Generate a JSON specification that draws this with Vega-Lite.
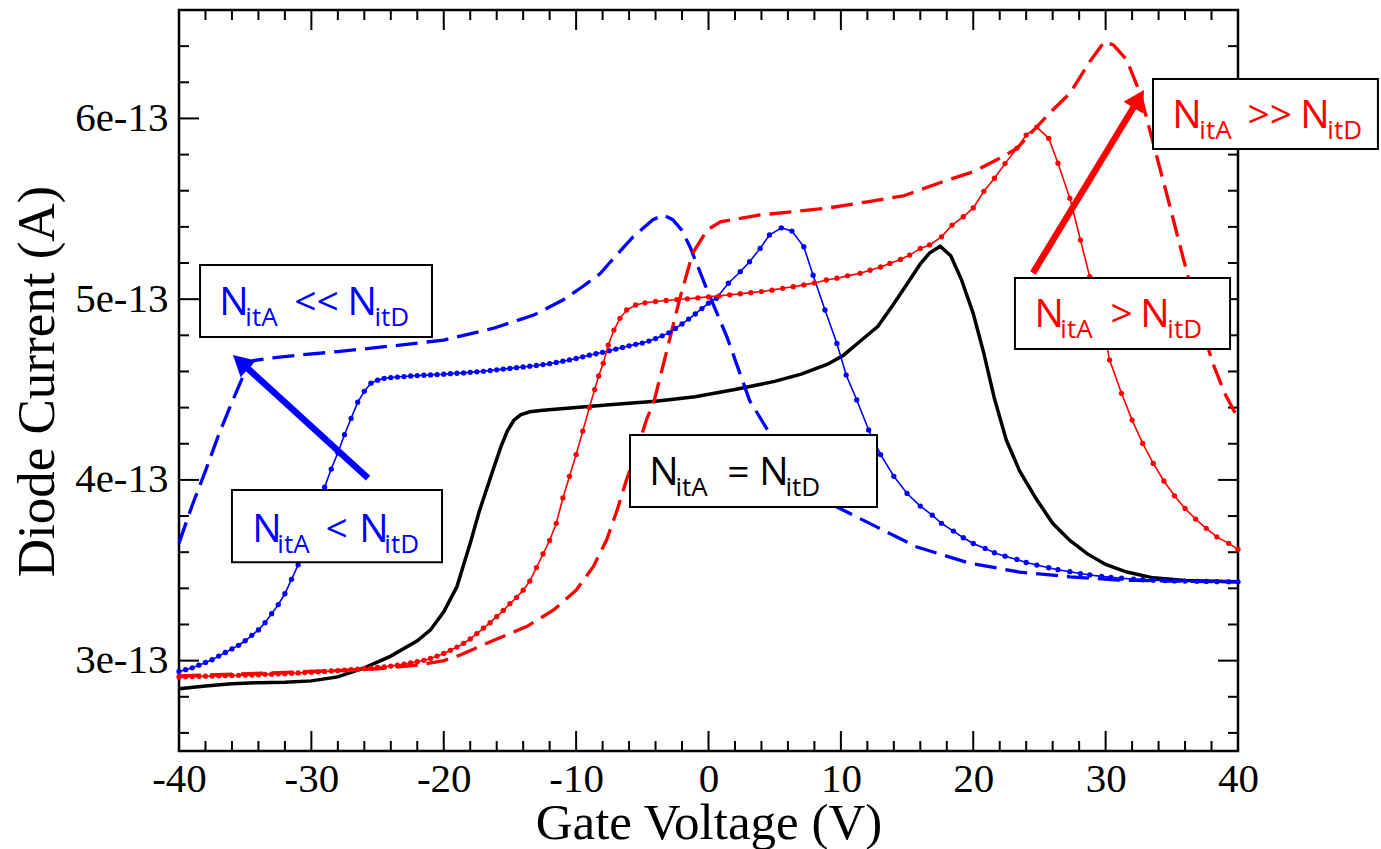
{
 "$schema": "https://vega.github.io/schema/vega-lite/v6.json",
 "width": 1059, "height": 741,
 "autosize": {"type": "none"},
 "padding": {"left": 179, "top": 10, "right": 143, "bottom": 98},
 "background": "white",
 "config": {"view": {"stroke": "#000", "strokeWidth": 2.5}, "axis": {"grid": false, "domain": false}},
 "datasets": {
  "xt": [
   {"v":-30,"kind":"major"},{"v":-20,"kind":"major"},{"v":-10,"kind":"major"},{"v":0,"kind":"major"},{"v":10,"kind":"major"},{"v":20,"kind":"major"},{"v":30,"kind":"major"},
   {"v":-38,"kind":"minor"},{"v":-36,"kind":"minor"},{"v":-34,"kind":"minor"},{"v":-32,"kind":"minor"},{"v":-28,"kind":"minor"},{"v":-26,"kind":"minor"},{"v":-24,"kind":"minor"},{"v":-22,"kind":"minor"},{"v":-18,"kind":"minor"},{"v":-16,"kind":"minor"},{"v":-14,"kind":"minor"},{"v":-12,"kind":"minor"},{"v":-8,"kind":"minor"},{"v":-6,"kind":"minor"},{"v":-4,"kind":"minor"},{"v":-2,"kind":"minor"},{"v":2,"kind":"minor"},{"v":4,"kind":"minor"},{"v":6,"kind":"minor"},{"v":8,"kind":"minor"},{"v":12,"kind":"minor"},{"v":14,"kind":"minor"},{"v":16,"kind":"minor"},{"v":18,"kind":"minor"},{"v":22,"kind":"minor"},{"v":24,"kind":"minor"},{"v":26,"kind":"minor"},{"v":28,"kind":"minor"},{"v":32,"kind":"minor"},{"v":34,"kind":"minor"},{"v":36,"kind":"minor"},{"v":38,"kind":"minor"}
  ],
  "yt": [
   {"i":3e-13,"kind":"major"},{"i":4e-13,"kind":"major"},{"i":5e-13,"kind":"major"},{"i":6e-13,"kind":"major"},
   {"i":2.6e-13,"kind":"minor"},{"i":2.8e-13,"kind":"minor"},{"i":3.2e-13,"kind":"minor"},{"i":3.4e-13,"kind":"minor"},{"i":3.6e-13,"kind":"minor"},{"i":3.8e-13,"kind":"minor"},{"i":4.2e-13,"kind":"minor"},{"i":4.4e-13,"kind":"minor"},{"i":4.6e-13,"kind":"minor"},{"i":4.8e-13,"kind":"minor"},{"i":5.2e-13,"kind":"minor"},{"i":5.4e-13,"kind":"minor"},{"i":5.6e-13,"kind":"minor"},{"i":5.8e-13,"kind":"minor"},{"i":6.2e-13,"kind":"minor"},{"i":6.4e-13,"kind":"minor"}
  ],
  "black": [
   {"v":-40,"i":2.845e-13},{"v":-38,"i":2.86e-13},{"v":-36,"i":2.872e-13},{"v":-34,"i":2.878e-13},{"v":-32,"i":2.881e-13},{"v":-30,"i":2.888e-13},{"v":-28,"i":2.91e-13},{"v":-26,"i":2.96e-13},{"v":-24,"i":3.025e-13},{"v":-22,"i":3.11e-13},{"v":-21,"i":3.17e-13},{"v":-20,"i":3.27e-13},{"v":-19,"i":3.41e-13},{"v":-18.5,"i":3.53e-13},{"v":-18,"i":3.65e-13},{"v":-17.3,"i":3.83e-13},{"v":-16.3,"i":4.05e-13},{"v":-15.7,"i":4.18e-13},{"v":-15.2,"i":4.27e-13},{"v":-14.7,"i":4.33e-13},{"v":-14.2,"i":4.36e-13},{"v":-13.5,"i":4.377e-13},{"v":-12.5,"i":4.385e-13},{"v":-10,"i":4.4e-13},{"v":-7,"i":4.418e-13},{"v":-4,"i":4.435e-13},{"v":-1,"i":4.46e-13},{"v":2,"i":4.5e-13},{"v":5,"i":4.545e-13},{"v":7,"i":4.585e-13},{"v":9,"i":4.64e-13},{"v":10.2,"i":4.69e-13},{"v":11.5,"i":4.77e-13},{"v":12.8,"i":4.85e-13},{"v":14,"i":4.975e-13},{"v":15.2,"i":5.106e-13},{"v":16,"i":5.195e-13},{"v":16.7,"i":5.255e-13},{"v":17.5,"i":5.293e-13},{"v":18.3,"i":5.24e-13},{"v":19.1,"i":5.11e-13},{"v":20,"i":4.92e-13},{"v":20.8,"i":4.7e-13},{"v":21.6,"i":4.45e-13},{"v":22.5,"i":4.22e-13},{"v":23.5,"i":4.05e-13},{"v":24.8,"i":3.89e-13},{"v":26,"i":3.76e-13},{"v":27.3,"i":3.665e-13},{"v":28.6,"i":3.592e-13},{"v":30,"i":3.532e-13},{"v":31.6,"i":3.49e-13},{"v":33.6,"i":3.458e-13},{"v":36,"i":3.443e-13},{"v":40,"i":3.437e-13}
  ],
  "blueDash": [
   {"v":-40,"i":3.65e-13},{"v":-39,"i":3.86e-13},{"v":-38,"i":4.05e-13},{"v":-37,"i":4.25e-13},{"v":-36,"i":4.43e-13},{"v":-35,"i":4.6e-13},{"v":-34.4,"i":4.66e-13},{"v":-33,"i":4.675e-13},{"v":-31,"i":4.69e-13},{"v":-28,"i":4.71e-13},{"v":-26,"i":4.725e-13},{"v":-23.3,"i":4.746e-13},{"v":-20,"i":4.774e-13},{"v":-16.3,"i":4.838e-13},{"v":-13.2,"i":4.912e-13},{"v":-11,"i":4.995e-13},{"v":-9.5,"i":5.07e-13},{"v":-8.2,"i":5.14e-13},{"v":-7,"i":5.24e-13},{"v":-5.7,"i":5.345e-13},{"v":-4.2,"i":5.44e-13},{"v":-3.4,"i":5.465e-13},{"v":-2.7,"i":5.44e-13},{"v":-2,"i":5.38e-13},{"v":-1.4,"i":5.29e-13},{"v":-0.1,"i":5.05e-13},{"v":1.4,"i":4.79e-13},{"v":3.1,"i":4.44e-13},{"v":4.6,"i":4.26e-13},{"v":6.4,"i":4.02e-13},{"v":8,"i":3.92e-13},{"v":9.7,"i":3.85e-13},{"v":12.7,"i":3.74e-13},{"v":15.7,"i":3.63e-13},{"v":19.7,"i":3.54e-13},{"v":23.5,"i":3.49e-13},{"v":27.3,"i":3.464e-13},{"v":31,"i":3.446e-13},{"v":35,"i":3.44e-13},{"v":40,"i":3.436e-13}
  ],
  "blueDot": [
   {"v":-40,"i":2.94e-13},{"v":-39.5,"i":2.95e-13},{"v":-39,"i":2.96e-13},{"v":-38.5,"i":2.975e-13},{"v":-38,"i":2.99e-13},{"v":-37.5,"i":3.005e-13},{"v":-37,"i":3.025e-13},{"v":-36.5,"i":3.045e-13},{"v":-36,"i":3.065e-13},{"v":-35.5,"i":3.085e-13},{"v":-35,"i":3.11e-13},{"v":-34.5,"i":3.14e-13},{"v":-34,"i":3.17e-13},{"v":-33.5,"i":3.21e-13},{"v":-33,"i":3.26e-13},{"v":-32.5,"i":3.31e-13},{"v":-32,"i":3.37e-13},{"v":-31.5,"i":3.45e-13},{"v":-31,"i":3.53e-13},{"v":-30.5,"i":3.63e-13},{"v":-30,"i":3.76e-13},{"v":-29.5,"i":3.87e-13},{"v":-29,"i":3.96e-13},{"v":-28.5,"i":4.06e-13},{"v":-28,"i":4.15e-13},{"v":-27.5,"i":4.25e-13},{"v":-27,"i":4.34e-13},{"v":-26.5,"i":4.43e-13},{"v":-26,"i":4.49e-13},{"v":-25.5,"i":4.535e-13},{"v":-25,"i":4.552e-13},{"v":-24.5,"i":4.562e-13},{"v":-24,"i":4.566e-13},{"v":-23.5,"i":4.569e-13},{"v":-23,"i":4.572e-13},{"v":-22.5,"i":4.575e-13},{"v":-22,"i":4.577e-13},{"v":-21.5,"i":4.579e-13},{"v":-21,"i":4.581e-13},{"v":-20.5,"i":4.583e-13},{"v":-20,"i":4.585e-13},{"v":-19.5,"i":4.588e-13},{"v":-19,"i":4.59e-13},{"v":-18.5,"i":4.592e-13},{"v":-18,"i":4.595e-13},{"v":-17.5,"i":4.598e-13},{"v":-17,"i":4.601e-13},{"v":-16.5,"i":4.605e-13},{"v":-16,"i":4.609e-13},{"v":-15.5,"i":4.613e-13},{"v":-15,"i":4.617e-13},{"v":-14.5,"i":4.621e-13},{"v":-14,"i":4.625e-13},{"v":-13.5,"i":4.629e-13},{"v":-13,"i":4.633e-13},{"v":-12.5,"i":4.638e-13},{"v":-12,"i":4.643e-13},{"v":-11.5,"i":4.65e-13},{"v":-11,"i":4.657e-13},{"v":-10.5,"i":4.664e-13},{"v":-10,"i":4.672e-13},{"v":-9.5,"i":4.681e-13},{"v":-9,"i":4.69e-13},{"v":-8.5,"i":4.698e-13},{"v":-8,"i":4.706e-13},{"v":-7.5,"i":4.715e-13},{"v":-7,"i":4.724e-13},{"v":-6.5,"i":4.733e-13},{"v":-6,"i":4.742e-13},{"v":-5.5,"i":4.75e-13},{"v":-5,"i":4.757e-13},{"v":-4.5,"i":4.768e-13},{"v":-4,"i":4.782e-13},{"v":-3.5,"i":4.797e-13},{"v":-3,"i":4.814e-13},{"v":-2.5,"i":4.838e-13},{"v":-2,"i":4.863e-13},{"v":-1.5,"i":4.89e-13},{"v":-1,"i":4.918e-13},{"v":-0.5,"i":4.948e-13},{"v":0,"i":4.978e-13},{"v":0.6,"i":5.005e-13},{"v":1.5,"i":5.088e-13},{"v":2.4,"i":5.152e-13},{"v":3.1,"i":5.207e-13},{"v":3.9,"i":5.281e-13},{"v":4.6,"i":5.355e-13},{"v":5.5,"i":5.395e-13},{"v":6.3,"i":5.377e-13},{"v":7.2,"i":5.29e-13},{"v":7.9,"i":5.133e-13},{"v":8.8,"i":4.94e-13},{"v":9.7,"i":4.755e-13},{"v":10.4,"i":4.58e-13},{"v":11.2,"i":4.442e-13},{"v":12.1,"i":4.276e-13},{"v":13,"i":4.14e-13},{"v":14,"i":4.02e-13},{"v":15,"i":3.925e-13},{"v":16,"i":3.855e-13},{"v":16.9,"i":3.805e-13},{"v":17.6,"i":3.76e-13},{"v":18.5,"i":3.717e-13},{"v":19.25,"i":3.68e-13},{"v":20,"i":3.648e-13},{"v":20.9,"i":3.621e-13},{"v":21.6,"i":3.597e-13},{"v":22.4,"i":3.578e-13},{"v":23.3,"i":3.56e-13},{"v":24,"i":3.543e-13},{"v":24.8,"i":3.529e-13},{"v":25.7,"i":3.514e-13},{"v":26.4,"i":3.503e-13},{"v":27.3,"i":3.492e-13},{"v":28.1,"i":3.482e-13},{"v":28.8,"i":3.474e-13},{"v":29.7,"i":3.466e-13},{"v":30.4,"i":3.461e-13},{"v":31.2,"i":3.456e-13},{"v":32.1,"i":3.451e-13},{"v":32.8,"i":3.448e-13},{"v":33.6,"i":3.445e-13},{"v":34.5,"i":3.443e-13},{"v":35.2,"i":3.441e-13},{"v":36,"i":3.44e-13},{"v":36.9,"i":3.439e-13},{"v":37.6,"i":3.438e-13},{"v":38.4,"i":3.437e-13},{"v":39.3,"i":3.436e-13},{"v":40,"i":3.436e-13}
  ],
  "redDot": [
   {"v":-40,"i":2.91e-13},{"v":-39.5,"i":2.911e-13},{"v":-39,"i":2.912e-13},{"v":-38.5,"i":2.913e-13},{"v":-38,"i":2.914e-13},{"v":-37.5,"i":2.915e-13},{"v":-37,"i":2.916e-13},{"v":-36.5,"i":2.917e-13},{"v":-36,"i":2.918e-13},{"v":-35.5,"i":2.919e-13},{"v":-35,"i":2.92e-13},{"v":-34.5,"i":2.921e-13},{"v":-34,"i":2.922e-13},{"v":-33.5,"i":2.924e-13},{"v":-33,"i":2.925e-13},{"v":-32.5,"i":2.927e-13},{"v":-32,"i":2.928e-13},{"v":-31.5,"i":2.93e-13},{"v":-31,"i":2.932e-13},{"v":-30.5,"i":2.934e-13},{"v":-30,"i":2.936e-13},{"v":-29.5,"i":2.938e-13},{"v":-29,"i":2.94e-13},{"v":-28.5,"i":2.943e-13},{"v":-28,"i":2.945e-13},{"v":-27.5,"i":2.948e-13},{"v":-27,"i":2.95e-13},{"v":-26.5,"i":2.953e-13},{"v":-26,"i":2.956e-13},{"v":-25.5,"i":2.959e-13},{"v":-25,"i":2.962e-13},{"v":-24.5,"i":2.966e-13},{"v":-24,"i":2.97e-13},{"v":-23.5,"i":2.975e-13},{"v":-23,"i":2.98e-13},{"v":-22.5,"i":2.987e-13},{"v":-22,"i":2.994e-13},{"v":-21.5,"i":3.002e-13},{"v":-21,"i":3.012e-13},{"v":-20.5,"i":3.025e-13},{"v":-20,"i":3.04e-13},{"v":-19.5,"i":3.057e-13},{"v":-19,"i":3.075e-13},{"v":-18.5,"i":3.096e-13},{"v":-18,"i":3.12e-13},{"v":-17.5,"i":3.15e-13},{"v":-17,"i":3.18e-13},{"v":-16.5,"i":3.21e-13},{"v":-16,"i":3.243e-13},{"v":-15.5,"i":3.278e-13},{"v":-15,"i":3.315e-13},{"v":-14.5,"i":3.35e-13},{"v":-14,"i":3.39e-13},{"v":-13.5,"i":3.44e-13},{"v":-13,"i":3.515e-13},{"v":-12.5,"i":3.59e-13},{"v":-12,"i":3.665e-13},{"v":-11.5,"i":3.76e-13},{"v":-11,"i":3.9e-13},{"v":-10.5,"i":4.02e-13},{"v":-10,"i":4.14e-13},{"v":-9.5,"i":4.27e-13},{"v":-9,"i":4.4e-13},{"v":-8.6,"i":4.5e-13},{"v":-8.3,"i":4.575e-13},{"v":-7.95,"i":4.645e-13},{"v":-7.57,"i":4.746e-13},{"v":-7.14,"i":4.829e-13},{"v":-6.69,"i":4.894e-13},{"v":-6.18,"i":4.94e-13},{"v":-5.5,"i":4.968e-13},{"v":-4.8,"i":4.98e-13},{"v":-4,"i":4.987e-13},{"v":-3.2,"i":4.993e-13},{"v":-2.4,"i":4.998e-13},{"v":-1.6,"i":5.002e-13},{"v":-0.8,"i":5.007e-13},{"v":0,"i":5.013e-13},{"v":0.8,"i":5.018e-13},{"v":1.6,"i":5.024e-13},{"v":2.4,"i":5.03e-13},{"v":3.2,"i":5.036e-13},{"v":4,"i":5.042e-13},{"v":4.8,"i":5.05e-13},{"v":5.6,"i":5.06e-13},{"v":6.4,"i":5.069e-13},{"v":7.2,"i":5.079e-13},{"v":8,"i":5.09e-13},{"v":8.9,"i":5.106e-13},{"v":9.7,"i":5.116e-13},{"v":10.5,"i":5.129e-13},{"v":11.45,"i":5.143e-13},{"v":12.2,"i":5.16e-13},{"v":13,"i":5.178e-13},{"v":13.7,"i":5.198e-13},{"v":14.5,"i":5.22e-13},{"v":15.2,"i":5.244e-13},{"v":16,"i":5.281e-13},{"v":16.7,"i":5.3e-13},{"v":17.6,"i":5.345e-13},{"v":18.4,"i":5.41e-13},{"v":19.25,"i":5.456e-13},{"v":20,"i":5.505e-13},{"v":20.8,"i":5.597e-13},{"v":21.6,"i":5.669e-13},{"v":22.4,"i":5.75e-13},{"v":23.3,"i":5.836e-13},{"v":24,"i":5.908e-13},{"v":24.8,"i":5.952e-13},{"v":25.7,"i":5.89e-13},{"v":26.4,"i":5.752e-13},{"v":27.3,"i":5.558e-13},{"v":28.1,"i":5.327e-13},{"v":28.8,"i":5.124e-13},{"v":29.6,"i":4.921e-13},{"v":30.3,"i":4.663e-13},{"v":31.2,"i":4.479e-13},{"v":32,"i":4.331e-13},{"v":32.8,"i":4.202e-13},{"v":33.6,"i":4.091e-13},{"v":34.4,"i":3.994e-13},{"v":35.2,"i":3.912e-13},{"v":36,"i":3.842e-13},{"v":36.8,"i":3.783e-13},{"v":37.6,"i":3.732e-13},{"v":38.4,"i":3.685e-13},{"v":39.3,"i":3.649e-13},{"v":40,"i":3.616e-13}
  ],
  "redDash": [
   {"v":-40,"i":2.915e-13},{"v":-36,"i":2.925e-13},{"v":-32,"i":2.935e-13},{"v":-28,"i":2.945e-13},{"v":-25,"i":2.955e-13},{"v":-22,"i":2.975e-13},{"v":-20,"i":3.0e-13},{"v":-18.8,"i":3.03e-13},{"v":-16.3,"i":3.11e-13},{"v":-13.7,"i":3.19e-13},{"v":-11.7,"i":3.28e-13},{"v":-10,"i":3.39e-13},{"v":-8.7,"i":3.52e-13},{"v":-7.7,"i":3.667e-13},{"v":-6.9,"i":3.833e-13},{"v":-6.2,"i":4.0e-13},{"v":-5.4,"i":4.165e-13},{"v":-4.7,"i":4.33e-13},{"v":-4.1,"i":4.44e-13},{"v":-3.2,"i":4.7e-13},{"v":-2.2,"i":4.995e-13},{"v":-1.2,"i":5.254e-13},{"v":-0.1,"i":5.383e-13},{"v":0.9,"i":5.428e-13},{"v":3.9,"i":5.466e-13},{"v":8.9,"i":5.503e-13},{"v":12,"i":5.539e-13},{"v":14.7,"i":5.571e-13},{"v":17.7,"i":5.65e-13},{"v":20,"i":5.705e-13},{"v":22,"i":5.78e-13},{"v":23.3,"i":5.834e-13},{"v":24.8,"i":5.954e-13},{"v":26,"i":6.047e-13},{"v":27.3,"i":6.139e-13},{"v":28.8,"i":6.314e-13},{"v":29.9,"i":6.425e-13},{"v":30.6,"i":6.406e-13},{"v":31.6,"i":6.323e-13},{"v":32.6,"i":6.139e-13},{"v":33.6,"i":5.862e-13},{"v":34.6,"i":5.586e-13},{"v":35.9,"i":5.216e-13},{"v":37.1,"i":4.884e-13},{"v":38.1,"i":4.645e-13},{"v":39,"i":4.479e-13},{"v":40,"i":4.34e-13}
  ],
  "boxes": [
   {"case":"ll","x1":-38.41,"x2":-20.89,"y1":5.189e-13,"y2":4.79e-13},
   {"case":"l","x1":-36.0,"x2":-20.13,"y1":3.944e-13,"y2":3.545e-13},
   {"case":"eq","x1":-5.93,"x2":12.73,"y1":4.248e-13,"y2":3.85e-13},
   {"case":"g","x1":23.15,"x2":39.4,"y1":5.117e-13,"y2":4.724e-13},
   {"case":"gg","x1":33.58,"x2":50.57,"y1":6.218e-13,"y2":5.831e-13}
  ],
  "labels": [
   {"case":"ll","part":"main","t":"N","x":-36.95,"y":4.912e-13},
   {"case":"ll","part":"sub","t":"itA","x":-34.99,"y":4.912e-13},
   {"case":"ll","part":"main","t":"<<","x":-31.29,"y":4.912e-13},
   {"case":"ll","part":"main","t":"N","x":-27.28,"y":4.912e-13},
   {"case":"ll","part":"sub","t":"itD","x":-25.24,"y":4.912e-13},
   {"case":"l","part":"main","t":"N","x":-34.46,"y":3.656e-13},
   {"case":"l","part":"sub","t":"itA","x":-32.57,"y":3.656e-13},
   {"case":"l","part":"main","t":"<","x":-28.94,"y":3.656e-13},
   {"case":"l","part":"main","t":"N","x":-26.38,"y":3.656e-13},
   {"case":"l","part":"sub","t":"itD","x":-24.49,"y":3.656e-13},
   {"case":"eq","part":"main","t":"N","x":-4.47,"y":3.971e-13},
   {"case":"eq","part":"sub","t":"itA","x":-2.5,"y":3.971e-13},
   {"case":"eq","part":"main","t":"=","x":1.42,"y":3.971e-13},
   {"case":"eq","part":"main","t":"N","x":3.84,"y":3.971e-13},
   {"case":"eq","part":"sub","t":"itD","x":5.81,"y":3.971e-13},
   {"case":"g","part":"main","t":"N","x":24.62,"y":4.846e-13},
   {"case":"g","part":"sub","t":"itA","x":26.58,"y":4.846e-13},
   {"case":"g","part":"main","t":">","x":30.36,"y":4.846e-13},
   {"case":"g","part":"main","t":"N","x":32.62,"y":4.846e-13},
   {"case":"g","part":"sub","t":"itD","x":34.66,"y":4.846e-13},
   {"case":"gg","part":"main","t":"N","x":35.04,"y":5.947e-13},
   {"case":"gg","part":"sub","t":"itA","x":37.08,"y":5.947e-13},
   {"case":"gg","part":"main","t":">>","x":40.71,"y":5.947e-13},
   {"case":"gg","part":"main","t":"N","x":44.71,"y":5.947e-13},
   {"case":"gg","part":"sub","t":"itD","x":46.75,"y":5.947e-13}
  ],
  "arrows": [
   {"case":"l","k":0,"x":-25.72,"y":4.01e-13},
   {"case":"l","k":1,"x":-35.25,"y":4.646e-13},
   {"case":"g","k":0,"x":24.51,"y":5.145e-13},
   {"case":"g","k":1,"x":32.43,"y":6.1e-13}
  ],
  "headBlue": [{"case":"l","x":-35.92,"y":4.691e-13}],
  "headRed": [{"case":"g","x":32.9,"y":6.157e-13}]
 },
 "layer": [
  {
   "data": {"name": "black"},
   "mark": {"type": "line", "stroke": "#000", "strokeWidth": 3.5},
   "encoding": {
    "x": {"field": "v", "type": "quantitative", "scale": {"domain": [-40, 40], "nice": false, "zero": false},
     "axis": {"orient": "bottom", "values": [-40,-30,-20,-10,0,10,20,30,40], "ticks": false, "tickSize": 0, "domain": false, "grid": false,
      "labelPadding": 8, "labelFont": "Liberation Serif", "labelFontSize": 41, "labelColor": "#000", "labelExpr": "datum.value", "labelFlush": false, "labelOverlap": false,
      "title": "Gate Voltage (V)", "titleFont": "Liberation Serif", "titleFontSize": 51, "titleFontWeight": "normal", "titleColor": "#000", "titleX": 529.5, "titleY": 87, "titleBaseline": "alphabetic", "titleAlign": "center"}},
    "y": {"field": "i", "type": "quantitative", "scale": {"domain": [2.5e-13, 6.6e-13], "nice": false, "zero": false},
     "axis": {"orient": "left", "values": [3e-13, 4e-13, 5e-13, 6e-13], "ticks": false, "tickSize": 0, "domain": false, "grid": false,
      "labelPadding": 11, "labelFont": "Liberation Serif", "labelFontSize": 41, "labelColor": "#000", "labelExpr": "replace(format(datum.value, '.0e'), '\u2212', '-')", "labelFlush": false, "labelOverlap": false,
      "title": "Diode Current (A)", "titleFont": "Liberation Serif", "titleFontSize": 53, "titleFontWeight": "normal", "titleColor": "#000", "titleX": -126, "titleY": 371, "titleBaseline": "alphabetic", "titleAlign": "center", "titleAngle": -90}}
   }
  },
  {
   "data": {"name": "xt"}, "transform": [{"filter": "datum.kind === 'major'"}],
   "mark": {"type": "rule", "stroke": "#000", "strokeWidth": 2},
   "encoding": {"x": {"field": "v", "type": "quantitative", "axis": null}, "y": {"datum": 2.5e-13, "type": "quantitative", "axis": null}, "y2": {"datum": 2.6107e-13}}
  },
  {
   "data": {"name": "xt"}, "transform": [{"filter": "datum.kind === 'minor'"}],
   "mark": {"type": "rule", "stroke": "#000", "strokeWidth": 2},
   "encoding": {"x": {"field": "v", "type": "quantitative", "axis": null}, "y": {"datum": 2.5e-13, "type": "quantitative", "axis": null}, "y2": {"datum": 2.5553e-13}}
  },
  {
   "data": {"name": "xt"}, "transform": [{"filter": "datum.kind === 'major'"}],
   "mark": {"type": "rule", "stroke": "#000", "strokeWidth": 2},
   "encoding": {"x": {"field": "v", "type": "quantitative", "axis": null}, "y": {"datum": 6.6e-13, "type": "quantitative", "axis": null}, "y2": {"datum": 6.4893e-13}}
  },
  {
   "data": {"name": "xt"}, "transform": [{"filter": "datum.kind === 'minor'"}],
   "mark": {"type": "rule", "stroke": "#000", "strokeWidth": 2},
   "encoding": {"x": {"field": "v", "type": "quantitative", "axis": null}, "y": {"datum": 6.6e-13, "type": "quantitative", "axis": null}, "y2": {"datum": 6.5447e-13}}
  },
  {
   "data": {"name": "yt"}, "transform": [{"filter": "datum.kind === 'major'"}],
   "mark": {"type": "rule", "stroke": "#000", "strokeWidth": 2},
   "encoding": {"y": {"field": "i", "type": "quantitative", "axis": null}, "x": {"datum": -40, "type": "quantitative", "axis": null}, "x2": {"datum": -38.489}}
  },
  {
   "data": {"name": "yt"}, "transform": [{"filter": "datum.kind === 'minor'"}],
   "mark": {"type": "rule", "stroke": "#000", "strokeWidth": 2},
   "encoding": {"y": {"field": "i", "type": "quantitative", "axis": null}, "x": {"datum": -40, "type": "quantitative", "axis": null}, "x2": {"datum": -39.245}}
  },
  {
   "data": {"name": "yt"}, "transform": [{"filter": "datum.kind === 'major'"}],
   "mark": {"type": "rule", "stroke": "#000", "strokeWidth": 2},
   "encoding": {"y": {"field": "i", "type": "quantitative", "axis": null}, "x": {"datum": 40, "type": "quantitative", "axis": null}, "x2": {"datum": 38.489}}
  },
  {
   "data": {"name": "yt"}, "transform": [{"filter": "datum.kind === 'minor'"}],
   "mark": {"type": "rule", "stroke": "#000", "strokeWidth": 2},
   "encoding": {"y": {"field": "i", "type": "quantitative", "axis": null}, "x": {"datum": 40, "type": "quantitative", "axis": null}, "x2": {"datum": 39.245}}
  },
  {
   "data": {"name": "blueDash"},
   "mark": {"type": "line", "stroke": "#0000ff", "strokeWidth": 3.3, "strokeDash": [22, 9]},
   "encoding": {
    "x": {"field": "v", "type": "quantitative", "axis": null},
    "y": {"field": "i", "type": "quantitative", "axis": null}
   }
  },
  {
   "data": {"name": "redDash"},
   "mark": {"type": "line", "stroke": "#ff0000", "strokeWidth": 3.3, "strokeDash": [22, 9]},
   "encoding": {
    "x": {"field": "v", "type": "quantitative", "axis": null},
    "y": {"field": "i", "type": "quantitative", "axis": null}
   }
  },
  {
   "data": {"name": "blueDot"},
   "mark": {"type": "line", "stroke": "#0000ff", "strokeWidth": 1.6, "point": {"filled": true, "size": 28, "color": "#0000ff", "opacity": 1}},
   "encoding": {
    "x": {"field": "v", "type": "quantitative", "axis": null},
    "y": {"field": "i", "type": "quantitative", "axis": null}
   }
  },
  {
   "data": {"name": "redDot"},
   "mark": {"type": "line", "stroke": "#ff0000", "strokeWidth": 1.6, "point": {"filled": true, "size": 28, "color": "#ff0000", "opacity": 1}},
   "encoding": {
    "x": {"field": "v", "type": "quantitative", "axis": null},
    "y": {"field": "i", "type": "quantitative", "axis": null}
   }
  },
  {
   "data": {"name": "boxes"},
   "mark": {"type": "rect", "fill": "#ffffff", "stroke": "#000", "strokeWidth": 2},
   "encoding": {
    "x": {"field": "x1", "type": "quantitative", "axis": null},
    "x2": {"field": "x2"},
    "y": {"field": "y1", "type": "quantitative", "axis": null},
    "y2": {"field": "y2"}
   }
  },
  {
   "data": {"name": "arrows"},
   "mark": {"type": "line", "strokeWidth": 6.5, "strokeCap": "butt"},
   "encoding": {
    "x": {"field": "x", "type": "quantitative", "axis": null},
    "y": {"field": "y", "type": "quantitative", "axis": null},
    "detail": {"field": "case"},
    "order": {"field": "k"},
    "color": {"field": "case", "type": "nominal", "scale": {"domain": ["ll","l","eq","g","gg"], "range": ["#0000ff","#0000ff","#000000","#ff0000","#ff0000"]}, "legend": null}
   }
  },
  {
   "data": {"name": "headBlue"},
   "mark": {"type": "point", "shape": "M0,0L-0.55,1L0.55,1Z", "filled": true, "opacity": 1, "size": 1700, "angle": 312.4},
   "encoding": {
    "x": {"field": "x", "type": "quantitative", "axis": null},
    "y": {"field": "y", "type": "quantitative", "axis": null},
    "color": {"field": "case", "type": "nominal", "scale": {"domain": ["ll","l","eq","g","gg"], "range": ["#0000ff","#0000ff","#000000","#ff0000","#ff0000"]}, "legend": null}
   }
  },
  {
   "data": {"name": "headRed"},
   "mark": {"type": "point", "shape": "M0,0L-0.55,1L0.55,1Z", "filled": true, "opacity": 1, "size": 1700, "angle": 31.3},
   "encoding": {
    "x": {"field": "x", "type": "quantitative", "axis": null},
    "y": {"field": "y", "type": "quantitative", "axis": null},
    "color": {"field": "case", "type": "nominal", "scale": {"domain": ["ll","l","eq","g","gg"], "range": ["#0000ff","#0000ff","#000000","#ff0000","#ff0000"]}, "legend": null}
   }
  },
  {
   "data": {"name": "labels"},
   "transform": [{"filter": "datum.part === 'main'"}],
   "mark": {"type": "text", "font": "Open Sans", "fontSize": 39, "align": "left", "baseline": "alphabetic"},
   "encoding": {
    "x": {"field": "x", "type": "quantitative", "axis": null},
    "y": {"field": "y", "type": "quantitative", "axis": null},
    "text": {"field": "t"},
    "color": {"field": "case", "type": "nominal", "scale": {"domain": ["ll","l","eq","g","gg"], "range": ["#0000ff","#0000ff","#000000","#ff0000","#ff0000"]}, "legend": null}
   }
  },
  {
   "data": {"name": "labels"},
   "transform": [{"filter": "datum.part === 'sub'"}],
   "mark": {"type": "text", "font": "Open Sans", "fontSize": 26, "align": "left", "baseline": "alphabetic", "dy": 11},
   "encoding": {
    "x": {"field": "x", "type": "quantitative", "axis": null},
    "y": {"field": "y", "type": "quantitative", "axis": null},
    "text": {"field": "t"},
    "color": {"field": "case", "type": "nominal", "scale": {"domain": ["ll","l","eq","g","gg"], "range": ["#0000ff","#0000ff","#000000","#ff0000","#ff0000"]}, "legend": null}
   }
  }
 ],
 "resolve": {"axis": {"x": "independent", "y": "independent"}}
}
